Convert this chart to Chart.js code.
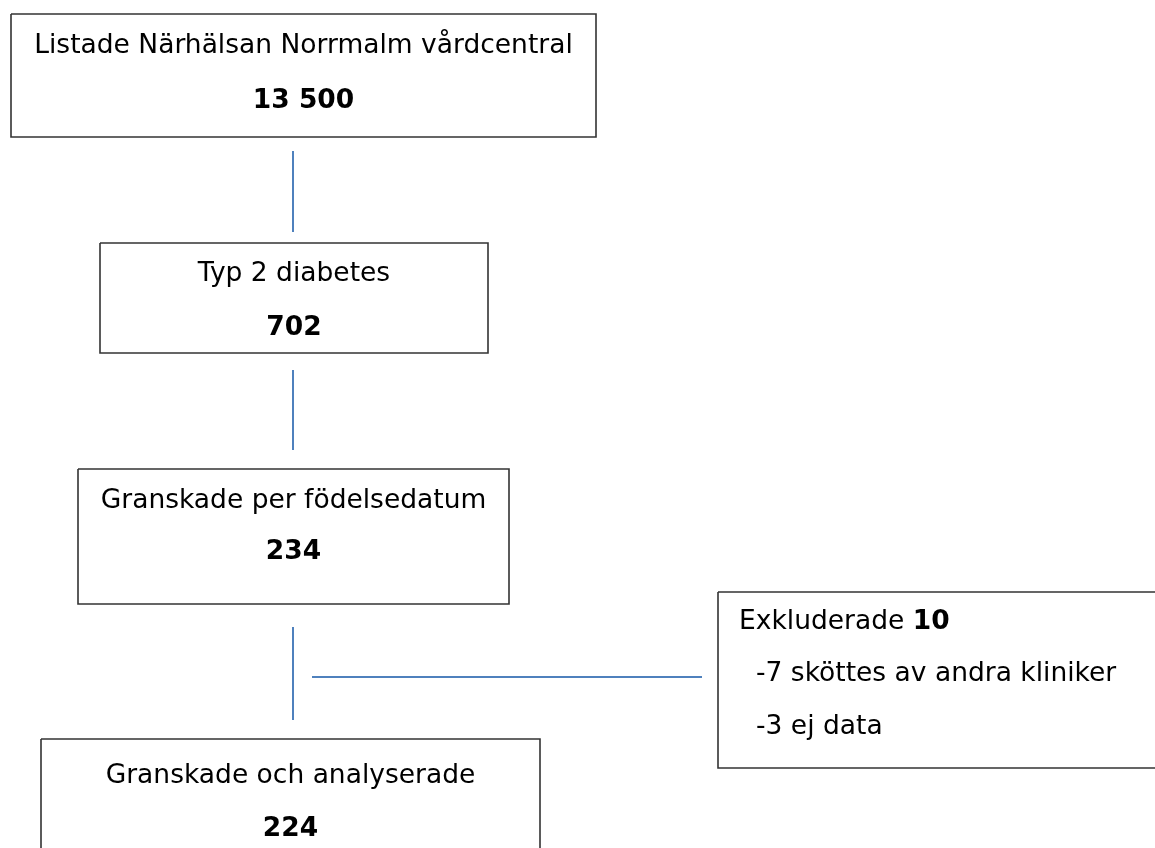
<!DOCTYPE html>
<html>
<head>
<meta charset="utf-8">
<script src="https://cdn.jsdelivr.net/npm/chart.js@4.4.1/dist/chart.umd.min.js"></script>
<style>
  html, body { margin: 0; padding: 0; background: #ffffff; }
  #wrap { width: 1155px; height: 848px; }
</style>
</head>
<body>
<div id="wrap"><canvas id="flowChart"></canvas></div>
<script>
// data: steps of the flowchart and the exclusion box
const stegText = ['Listade Närhälsan Norrmalm vårdcentral', 'Typ 2 diabetes', 'Granskade per födelsedatum', 'Granskade och analyserade'];
const stegAntal = ['13 500', '702', '234', '224'];
const exkluderadeText = 'Exkluderade';
const exkluderadeAntal = '10';
const exkluderadeOrsaker = ['-7 sköttes av andra kliniker', '-3 ej data'];

// layout (in canvas units, drawn through the scales)
const stegBoxar = [
    [11, 14, 596, 137],
    [100, 243, 488, 353],
    [78, 469, 509, 604],
    [41, 739, 540, 870]
];
const stegRadY = [[46, 101], [274, 328], [501, 552], [776, 829]];
const exkluderadeBox = [718, 592, 1170, 768];
const exkluderadeRadY = [622, 674, 727];
const kopplingar = [
    [[293, 151], [293, 232]],
    [[293, 370], [293, 450]],
    [[293, 627], [293, 720]],
    [[312, 677], [702, 677]]
];

const FONT = '"DejaVu Sans", Verdana, sans-serif';
const SIZE = 26.5;

function boxData(b) {
    return [{x: b[0], y: b[1]}, {x: b[2], y: b[1]}, {x: b[2], y: b[3]}, {x: b[0], y: b[3]}, {x: b[0], y: b[1]}];
}

const datasets = [];
stegBoxar.concat([exkluderadeBox]).forEach(b => {
    datasets.push({
        data: boxData(b),
        showLine: true,
        borderColor: '#333333',
        borderWidth: 1.6,
        pointRadius: 0,
        fill: false
    });
});
kopplingar.forEach(k => {
    datasets.push({
        data: k.map(p => ({x: p[0], y: p[1]})),
        showLine: true,
        borderColor: '#4f81bd',
        borderWidth: 2,
        pointRadius: 0,
        fill: false
    });
});

// plugin som skriver texten i rutorna
const textPlugin = {
    id: 'flodesText',
    afterDatasetsDraw(chart) {
        const ctx = chart.ctx;
        const xs = chart.scales.x;
        const ys = chart.scales.y;
        ctx.save();
        ctx.fillStyle = '#000000';
        ctx.textBaseline = 'middle';
        ctx.textAlign = 'center';
        stegBoxar.forEach((b, i) => {
            const cx = xs.getPixelForValue((b[0] + b[2]) / 2);
            ctx.font = SIZE + 'px ' + FONT;
            ctx.fillText(stegText[i], cx, ys.getPixelForValue(stegRadY[i][0]));
            ctx.font = 'bold ' + SIZE + 'px ' + FONT;
            ctx.fillText(stegAntal[i], cx, ys.getPixelForValue(stegRadY[i][1]));
        });
        // exkluderade
        ctx.textAlign = 'left';
        const x0 = xs.getPixelForValue(exkluderadeBox[0] + 21);
        ctx.font = SIZE + 'px ' + FONT;
        const t = exkluderadeText + ' ';
        ctx.fillText(t, x0, ys.getPixelForValue(exkluderadeRadY[0]));
        const w = ctx.measureText(t).width;
        ctx.font = 'bold ' + SIZE + 'px ' + FONT;
        ctx.fillText(exkluderadeAntal, x0 + w, ys.getPixelForValue(exkluderadeRadY[0]));
        ctx.font = SIZE + 'px ' + FONT;
        exkluderadeOrsaker.forEach((r, i) => {
            ctx.fillText(r, xs.getPixelForValue(exkluderadeBox[0] + 38), ys.getPixelForValue(exkluderadeRadY[i + 1]));
        });
        ctx.restore();
    }
};

new Chart(document.getElementById('flowChart').getContext('2d'), {
    type: 'scatter',
    data: { datasets: datasets },
    options: {
        responsive: true,
        maintainAspectRatio: false,
        animation: false,
        layout: { padding: 0 },
        plugins: { legend: { display: false }, tooltip: { enabled: false } },
        scales: {
            x: { type: 'linear', min: 0, max: 1155, display: false },
            y: { type: 'linear', min: 0, max: 848, reverse: true, display: false }
        }
    },
    plugins: [textPlugin]
});
</script>
</body>
</html>
